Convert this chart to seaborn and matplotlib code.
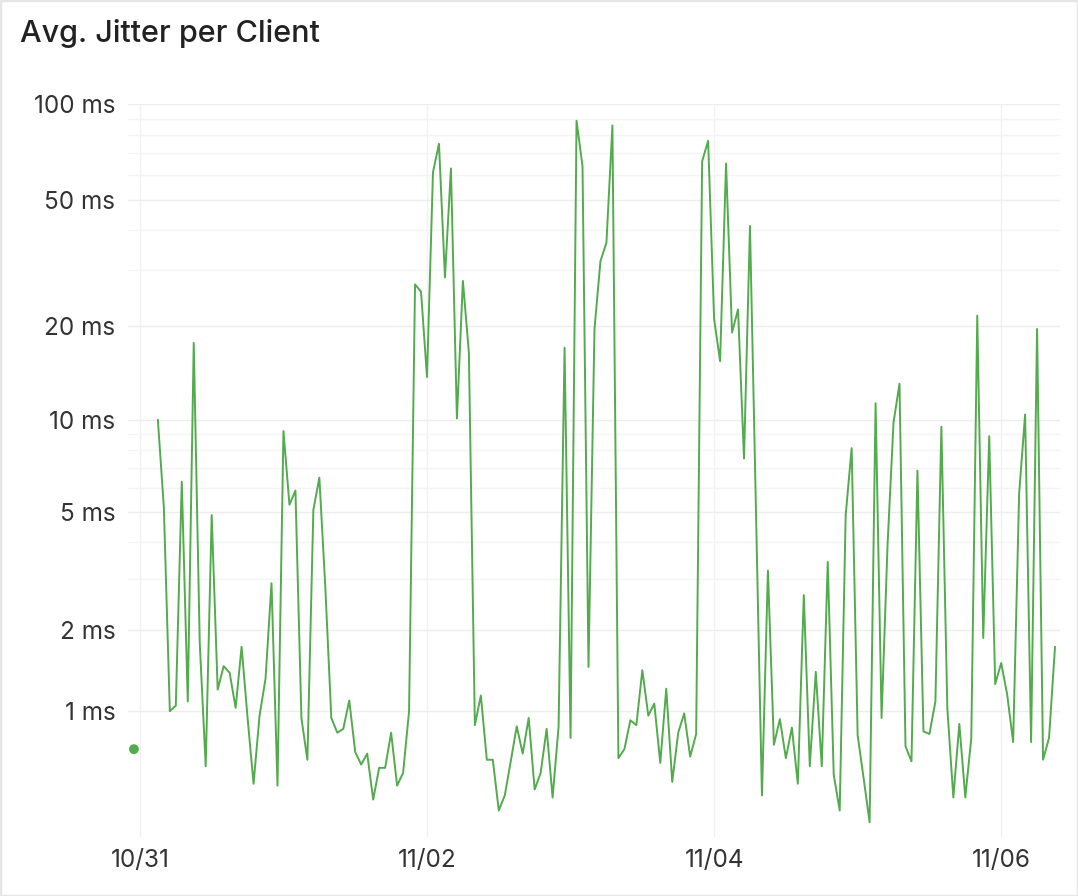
import numpy as np
import pandas as pd
import matplotlib.pyplot as plt
import seaborn as sns

# hourly average jitter (ms), starting 10/31 03:00
start = "2024-10-31 03:00"
jitter_ms = [
    # 10/31 03:00 - 23:00
    10.0, 5.2, 1.0, 1.05, 6.3, 1.09, 17.6, 1.8, 0.59, 4.9, 1.21, 1.48, 1.4,
    1.03, 1.74, 0.94, 0.49, 0.96, 1.33, 2.9, 0.48,
    # 11/01
    9.2, 5.3, 5.9, 0.94, 0.63, 5.1, 6.5, 2.8, 0.94, 0.82, 0.85, 1.1, 0.68,
    0.60, 0.67, 0.41, 0.58, 0.58, 0.82, 0.48, 0.55, 1.0, 27, 25.6,
    # 11/02
    13.7, 61, 75, 28.4, 62.7, 10.1, 27.7, 16.4, 0.88, 1.15, 0.63, 0.63, 0.36,
    0.43, 0.62, 0.87, 0.67, 0.94, 0.46, 0.55, 0.85, 0.42, 0.87, 17.0,
    # 11/03
    0.78, 88.6, 63.7, 1.47, 19.5, 32, 36.6, 85.6, 0.64, 0.70, 0.92, 0.88,
    1.43, 0.96, 1.07, 0.61, 1.22, 0.50, 0.82, 0.98, 0.65, 0.81, 66, 76.6,
    # 11/04
    21, 15.4, 65, 19, 22.5, 7.5, 41.3, 5.0, 0.43, 3.2, 0.73, 0.93, 0.64,
    0.86, 0.49, 2.64, 0.59, 1.41, 0.59, 3.42, 0.54, 0.36, 4.9, 8.1,
    # 11/05
    0.80, 0.52, 0.31, 11.3, 0.94, 3.9, 9.8, 13.05, 0.72, 0.62, 6.85, 0.83,
    0.81, 1.09, 9.5, 1.02, 0.42, 0.89, 0.42, 0.78, 21.5, 1.87, 8.85, 1.27,
    # 11/06 00:00 - 09:00
    1.52, 1.16, 0.75, 5.76, 10.4, 0.75, 19.5, 0.63, 0.78, 1.74,
]

# single sample before a gap in the data
lone_time = ["2024-10-30 23:00"]
lone_ms = [0.70]

y_ticks = [1, 2, 5, 10, 20, 50, 100]
y_labels = ["1 ms", "2 ms", "5 ms", "10 ms", "20 ms", "50 ms", "100 ms"]
y_minor = [3, 4, 6, 7, 8, 9, 30, 40, 60, 70, 80, 90]
x_ticks = ["2024-10-31", "2024-11-02", "2024-11-04", "2024-11-06"]

green = "#52ab4c"
text_col = "#333333"

df = pd.DataFrame({
    "time": pd.date_range(start, periods=len(jitter_ms), freq="h"),
    "jitter": jitter_ms,
})

sns.set_theme(style="white")
plt.rcParams["font.family"] = ["Inter", "DejaVu Sans"]

fig = plt.figure(figsize=(10.78, 8.96), dpi=100)
ax = fig.add_axes([0.1187, 0.0647, 0.8646, 0.8192])

sns.lineplot(data=df, x="time", y="jitter", color=green, linewidth=1.4, ax=ax)
sns.scatterplot(x=pd.to_datetime(lone_time), y=lone_ms, color=green, s=50,
                edgecolor="none", ax=ax, zorder=3)

# compressed log axis (log of value + offset)
off = 0.25
def fwd(v):
    with np.errstate(invalid="ignore", divide="ignore"):
        return np.log10(np.asarray(v, dtype=float) + off)
def inv(v):
    return 10 ** np.asarray(v, dtype=float) - off

ax.set_yscale("function", functions=(fwd, inv))
ax.set_ylim(0.25, 100)
ax.set_yticks(y_ticks)
ax.set_yticklabels(y_labels)
ax.set_yticks(y_minor, minor=True)
ax.set_yticklabels([], minor=True)

xt = pd.to_datetime(x_ticks)
ax.set_xticks(xt)
ax.set_xticklabels([d.strftime("%m/%d") for d in xt])
ax.set_xlim(pd.Timestamp("2024-10-30 22:00"), pd.Timestamp("2024-11-06 09:50"))

ax.set_xlabel("")
ax.set_ylabel("")
ax.grid(True, which="major", axis="y", color="#ededed", linewidth=1)
ax.grid(True, which="minor", axis="y", color="#f4f4f4", linewidth=1)
ax.grid(True, which="major", axis="x", color="#f1f1f1", linewidth=1)
ax.set_axisbelow(True)
ax.tick_params(axis="both", which="both", length=0, labelsize=17.5,
               labelcolor=text_col)
ax.tick_params(axis="y", pad=9)
ax.tick_params(axis="x", pad=8)
sns.despine(ax=ax, left=True, bottom=True)

fig.text(0.0186, 0.963, "Avg. Jitter per Client", fontsize=22, weight="medium",
         color="#222222", va="center", ha="left")

fig.patches.append(plt.Rectangle((0, 0), 1, 1, transform=fig.transFigure,
                                 fill=False, edgecolor="#e6e6e6", linewidth=2.5))

fig.savefig("out.png", dpi=100, facecolor="white")
